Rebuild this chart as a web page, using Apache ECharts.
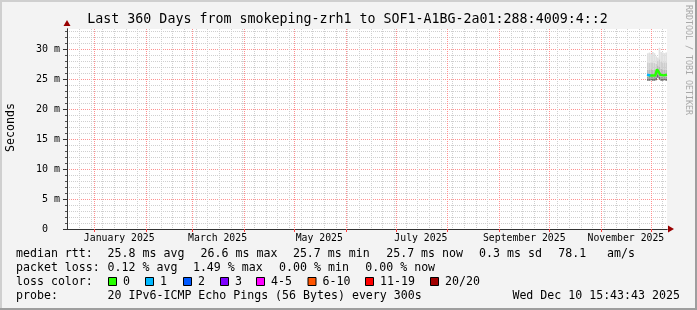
<!DOCTYPE html>
<html><head><meta charset="utf-8">
<script src="https://cdn.jsdelivr.net/npm/echarts@6/dist/echarts.min.js"></script>
<style>html,body{margin:0;padding:0;background:#f3f3f3}#c{width:697px;height:310px}</style>
</head><body><div id="c"></div>
<script>
// ---------- data ----------
const endTime = Date.UTC(2025, 11, 10, 15, 43, 43);
const spanDays = 360;
const monthStarts = ['2024-12-01','2025-01-01','2025-02-01','2025-03-01','2025-04-01','2025-05-01','2025-06-01',
  '2025-07-01','2025-08-01','2025-09-01','2025-10-01','2025-11-01','2025-12-01'];
const xLabelMonths = ['2025-01-01','2025-03-01','2025-05-01','2025-07-01','2025-09-01','2025-11-01'];
const xTickLabels = ['January 2025','March 2025','May 2025','July 2025','September 2025','November 2025'];
const yMajorValues = [0,5,10,15,20,25,30];
const yTickLabels = ['0  ','5 m','10 m','15 m','20 m','25 m','30 m'];
const yMinorValues = [0,1,2,3,4,5,6,7,8,9,10,11,12,13,14,15,16,17,18,19,20,21,22,23,24,25,26,27,28,29,30,31,32,33];
const yMaxMs = 33.33;

// days before end time, ms values
const dayOffsets = [-12,-11,-10,-9,-8,-7,-6,-5,-4,-3,-2,-1,0];
const pingMin = [24.7,24.7,24.8,24.7,24.7,24.8,25.2,24.9,24.7,24.7,24.8,24.7,24.7];
const pingP10 = [25.1,25.1,25.1,25.1,25.1,25.2,25.8,25.4,25.1,25.1,25.1,25.1,25.1];
const pingP25 = [25.4,25.4,25.4,25.4,25.4,25.5,26.2,25.8,25.4,25.4,25.4,25.4,25.4];
const pingP75 = [26.6,26.5,26.6,26.6,26.5,26.6,27.3,27.0,26.7,26.6,26.6,26.6,26.6];
const pingP90 = [27.8,27.7,27.8,27.8,27.7,27.6,28.0,28.3,27.9,27.8,27.8,27.8,27.7];
const pingMax = [29.3,29.4,29.2,29.5,29.3,28.8,28.6,30.2,29.5,29.4,29.3,29.4,29.2];
const median  = [25.7,25.6,25.6,25.6,25.6,25.7,26.6,26.2,25.7,25.6,25.6,25.7,25.7];
const lossCount = [1,0,0,0,0,0,0,0,0,0,0,0,0];

const lossLabels = ['0','1','2','3','4-5','6-10','11-19','20/20'];
const lossColors = ['#26ff00','#00b8ff','#0059ff','#7e00ff','#ff00ff','#ff5500','#ff0000','#a10000'];
const lossLower  = [0,1,2,3,4,6,11,20];
const smokeColors = ['#6e6e6e','#9a9a9a','#b9b9b9','#cecece','#e0e0e0'];

// ---------- derived ----------
const DAY = 86400000;
const startTime = endTime - spanDays * DAY;
const times = dayOffsets.map(d => endTime + d * DAY);
const monthVals = monthStarts.map(s => Date.parse(s));
const labelVals = xLabelMonths.map(s => Date.parse(s) + 15 * DAY);
const weekVals = [];
for (let t = Date.UTC(2024, 11, 16); t <= endTime; t += 7 * DAY) weekVals.push(t);
function bucketOf(n){ let b = 0; for (let i=0;i<lossLower.length;i++) if (n >= lossLower[i]) b = i; return b; }

const FONT = 'DejaVu Sans Mono';
const series = [];
const smokeData = [];
for (let i = 0; i < times.length - 1; i++) {
  smokeData.push([times[i], times[i+1], pingMin[i], pingP10[i], pingP25[i], pingP75[i], pingP90[i], pingMax[i]]);
}
series.push({
  type: 'custom', silent: true, z: 2, clip: true,
  encode: { x: [0, 1], y: [2, 3, 4, 5, 6, 7] },
  data: smokeData,
  renderItem: function (params, api) {
    const x0 = api.coord([api.value(0), 0])[0];
    const x1 = api.coord([api.value(1), 0])[0];
    const children = [];
    for (let k = 0; k < 5; k++) {
      const yLo = api.coord([api.value(0), api.value(2 + k)])[1];
      const yHi = api.coord([api.value(0), api.value(3 + k)])[1];
      children.push({ type: 'rect', shape: { x: x0, y: yHi, width: x1 - x0, height: yLo - yHi },
        style: { fill: smokeColors[k] } });
    }
    return { type: 'group', children: children };
  }
});
const buckets = lossCount.map(bucketOf);
lossColors.forEach((c, b) => {
  if (!buckets.includes(b)) return;
  series.push({
    type: 'line', step: 'end', showSymbol: false, silent: true, connectNulls: false,
    lineStyle: { width: 2.5, color: c },
    data: times.map((t, i) => [t, (buckets[i] === b || (i > 0 && buckets[i-1] === b)) ? median[i] : null]),
    z: 3
  });
});

// ---------- graphics ----------
const g = [];
g.push({ type:'rect', shape:{x:0,y:0,width:697,height:2}, style:{fill:'#cfcfcf'}, silent:true });
g.push({ type:'rect', shape:{x:0,y:0,width:2,height:310}, style:{fill:'#cfcfcf'}, silent:true });
g.push({ type:'rect', shape:{x:0,y:308,width:697,height:2}, style:{fill:'#9e9e9e'}, silent:true });
g.push({ type:'rect', shape:{x:695,y:0,width:2,height:310}, style:{fill:'#9e9e9e'}, silent:true });
function txt(x, y, s, size, extra){
  g.push(Object.assign({ type:'text', x:x, y:y, silent:true,
    style: Object.assign({ text:s, fill:'#000', font: size + 'px "' + FONT + '"', textVerticalAlign:'middle' }, extra || {}) }));
}
txt(347.5, 19.5, 'Last 360 Days from smokeping-zrh1 to SOF1-A1BG-2a01:288:4009:4::2', 13.3, { textAlign:'center' });
g.push({ type:'text', x:11, y:127.5, rotation:Math.PI/2, silent:true,
  style:{ text:'Seconds', fill:'#000', font:'11.6px "' + FONT + '"', textAlign:'center', textVerticalAlign:'middle' } });
g.push({ type:'text', x:688, y:60, rotation:-Math.PI/2, silent:true,
  style:{ text:'RRDTOOL / TOBI OETIKER', fill:'#a8a8a8', font:'8.3px "' + FONT + '"', textAlign:'center', textVerticalAlign:'middle' } });

const LF = 11.6;
const rows = [254, 268, 282, 296];
txt(16, rows[0], 'median rtt:', LF);
txt(107.6, rows[0], '25.8 ms avg', LF);
txt(200.6, rows[0], '26.6 ms max', LF);
txt(292.9, rows[0], '25.7 ms min', LF);
txt(386.2, rows[0], '25.7 ms now', LF);
txt(479.1, rows[0], '0.3 ms sd', LF);
txt(558.2, rows[0], '78.1', LF);
txt(607.1, rows[0], 'am/s', LF);
txt(16, rows[1], 'packet loss:', LF);
txt(107.6, rows[1], '0.12 % avg', LF);
txt(192.9, rows[1], '1.49 % max', LF);
txt(279.1, rows[1], '0.00 % min', LF);
txt(365.3, rows[1], '0.00 % now', LF);
txt(16, rows[2], 'loss color:', LF);
const boxX = [108, 145, 183, 220, 256, 307.5, 365, 430];
lossLabels.forEach((lab, i) => {
  g.push({ type:'rect', shape:{x:boxX[i]+0.5, y:rows[2]-4.5, width:8, height:8}, style:{fill:lossColors[i], stroke:'#000', lineWidth:1}, silent:true });
  txt(boxX[i] + 15, rows[2], lab, LF);
});
txt(16, rows[3], 'probe:', LF);
txt(107.6, rows[3], '20 IPv6-ICMP Echo Pings (56 Bytes) every 300s', LF);
txt(512.4, rows[3], 'Wed Dec 10 15:43:43 2025', LF);

// ---------- chart ----------
const minorLine = { show:true, lineStyle:{ color:'#cfcfcf', width:1, type:[1,1] } };
const majorLine = { show:true, lineStyle:{ color:'#ff9090', width:1, type:[1,1] } };
const chart = echarts.init(document.getElementById('c'), null, { renderer:'canvas', devicePixelRatio:1 });
chart.setOption({
  animation:false,
  backgroundColor:'#f3f3f3',
  grid:{ left:67, top:29, width:600, height:200, show:true, backgroundColor:'#ffffff', borderWidth:0, outerBoundsMode:'none', containLabel:false },
  xAxis:[
    { type:'value', min:startTime, max:endTime, position:'bottom',
      axisLine:{ show:true, symbol:['none','triangle'], symbolSize:[7,6], symbolOffset:[0,4], lineStyle:{ color:'#990000' } },
      axisTick:{ show:false, customValues:weekVals }, axisLabel:{ show:false }, splitLine:minorLine },
    { type:'value', min:startTime, max:endTime, position:'bottom',
      axisLine:{ show:false },
      axisTick:{ show:true, customValues:monthVals, length:3, lineStyle:{ color:'#ff4040' } }, axisLabel:{ show:false }, splitLine:majorLine },
    { type:'value', min:startTime, max:endTime, position:'bottom',
      axisLine:{ show:true, lineStyle:{ color:'#333' } },
      axisTick:{ show:false, customValues:labelVals },
      axisLabel:{ show:true, customValues:labelVals, margin:4, color:'#000', fontFamily:FONT, fontSize:9.8, verticalAlign:'top',
        formatter:(v) => { const i = labelVals.indexOf(v); return i >= 0 ? xTickLabels[i] : ''; } },
      splitLine:{ show:false } }
  ],
  yAxis:[
    { type:'value', min:0, max:yMaxMs, position:'left',
      axisLine:{ show:true, symbol:['none','triangle'], symbolSize:[7,6], symbolOffset:[0,6], lineStyle:{ color:'#990000' } },
      axisTick:{ show:true, customValues:yMinorValues, length:2, lineStyle:{ color:'#555' } }, axisLabel:{ show:false }, splitLine:minorLine },
    { type:'value', min:0, max:yMaxMs, position:'left',
      axisLine:{ show:true, lineStyle:{ color:'#333' } },
      axisTick:{ show:true, customValues:yMajorValues, length:4, lineStyle:{ color:'#333' } },
      axisLabel:{ show:true, customValues:yMajorValues, margin:7, color:'#000', fontFamily:FONT, fontSize:10,
        formatter:(v) => { const i = yMajorValues.indexOf(v); return i >= 0 ? yTickLabels[i] : ''; } },
      splitLine:majorLine }
  ],
  series: series,
  graphic: g
});
</script></body></html>
